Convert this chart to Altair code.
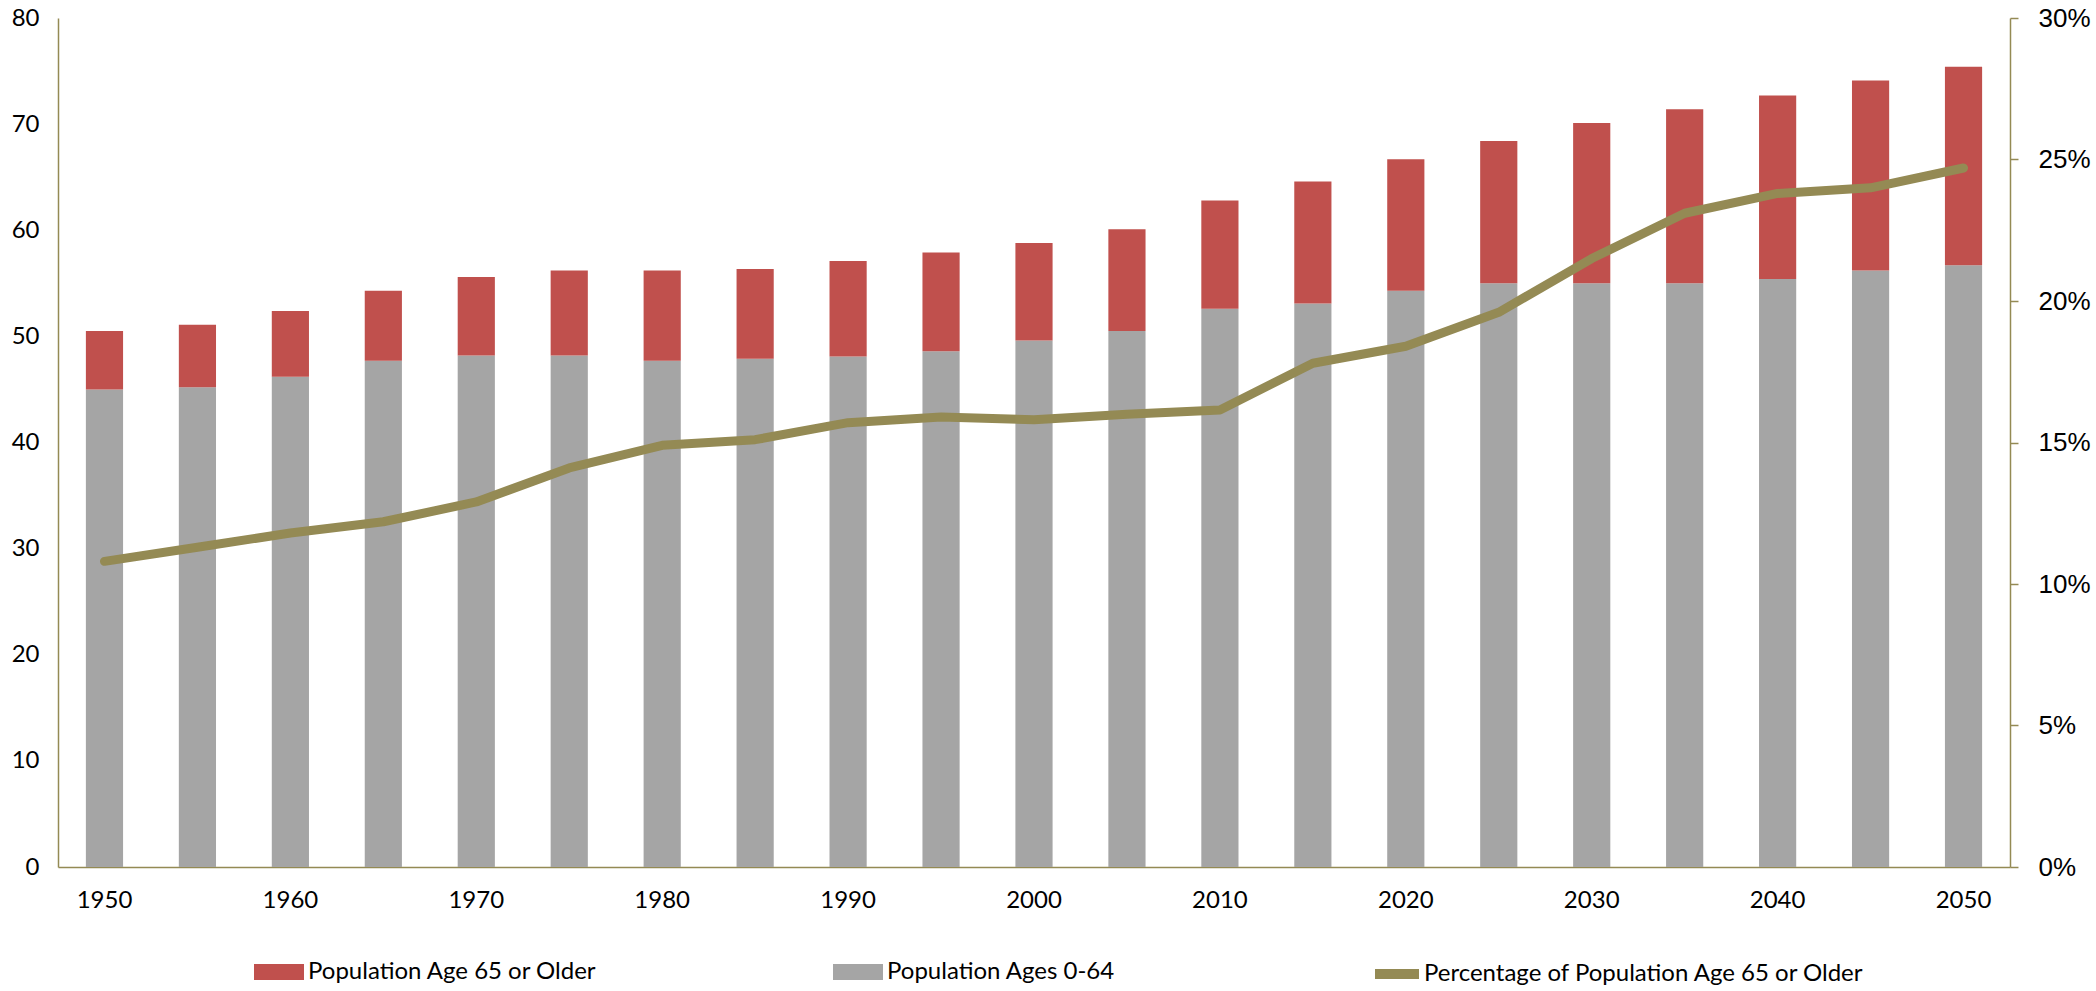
import altair as alt
import pandas as pd

years = list(range(1950, 2051, 5))
pop_0_64 = [45.0, 45.2, 46.2, 47.7, 48.2, 48.2, 47.7, 47.9, 48.1, 48.6, 49.6,
            50.5, 52.6, 53.1, 54.3, 55.0, 55.0, 55.0, 55.4, 56.2, 56.7]
pop_65_plus = [5.5, 5.9, 6.2, 6.6, 7.4, 8.0, 8.5, 8.45, 9.0, 9.3, 9.2,
               9.6, 10.2, 11.5, 12.4, 13.4, 15.1, 16.4, 17.3, 17.9, 18.7]
pct_65_plus = [0.108, 0.113, 0.118, 0.122, 0.129, 0.141, 0.149, 0.151, 0.157, 0.159, 0.158,
               0.160, 0.1615, 0.178, 0.184, 0.196, 0.215, 0.231, 0.238, 0.240, 0.247]

S_OLD = "Population Age 65 or Older"
S_YOUNG = "Population Ages 0-64"
S_PCT = "Percentage of Population Age 65 or Older"

bars_df = pd.DataFrame(
    [{"year": y, "series": S_YOUNG, "value": v, "ord": 0} for y, v in zip(years, pop_0_64)]
    + [{"year": y, "series": S_OLD, "value": v, "ord": 1} for y, v in zip(years, pop_65_plus)]
)
line_df = pd.DataFrame({"year": years, "pct": pct_65_plus, "series": S_PCT})

OLIVE = "#948A54"
RED = "#C0504D"
GRAY = "#A5A5A5"
FONT_A = "Lato"
FONT_B = "Liberation Sans"

x_enc = alt.X(
    "year:O",
    scale=alt.Scale(paddingInner=0.6, paddingOuter=0.3),
    axis=alt.Axis(
        title=None, labelAngle=0, values=list(range(1950, 2051, 10)),
        ticks=False, tickSize=0, labelPadding=21, labelFont=FONT_A, labelFontSize=24,
        labelColor="black", domainColor=OLIVE, domainWidth=1.5,
    ),
)

bars = alt.Chart(bars_df).mark_bar().encode(
    x=x_enc,
    y=alt.Y(
        "value:Q", stack="zero",
        scale=alt.Scale(domain=[0, 80], nice=False),
        axis=alt.Axis(
            title=None, values=list(range(0, 81, 10)), ticks=False, tickSize=0,
            labelPadding=19, labelFont=FONT_A, labelFontSize=24, labelColor="black",
            domainColor=OLIVE, domainWidth=1.5, grid=False,
        ),
    ),
    fill=alt.Fill(
        "series:N",
        scale=alt.Scale(domain=[S_OLD, S_YOUNG], range=[RED, GRAY]),
        legend=alt.Legend(
            title=None, orient="none", direction="horizontal", legendX=196, legendY=929,
            symbolType="M-1,-0.32H1V0.32H-1Z", symbolSize=2500, symbolStrokeWidth=0,
            labelFont=FONT_A, labelFontSize=24, labelColor="black", labelOffset=4,
            labelLimit=1000, columnPadding=236, padding=0,
        ),
    ),
    order=alt.Order("ord:Q"),
)

line = alt.Chart(line_df).mark_line(strokeWidth=9, strokeCap="round", strokeJoin="round").encode(
    x=x_enc,
    y=alt.Y(
        "pct:Q",
        scale=alt.Scale(domain=[0, 0.30], nice=False),
        axis=alt.Axis(
            title=None, orient="right", values=[0, 0.05, 0.10, 0.15, 0.20, 0.25, 0.30],
            format=".0%", tickSize=8, tickColor=OLIVE, tickWidth=1.5, labelPadding=20,
            labelFont=FONT_B, labelFontSize=26, labelColor="black",
            domainColor=OLIVE, domainWidth=1.5, grid=False,
        ),
    ),
    stroke=alt.Stroke(
        "series:N",
        scale=alt.Scale(domain=[S_PCT], range=[OLIVE]),
        legend=alt.Legend(
            title=None, orient="none", direction="horizontal", legendX=1312, legendY=929,
            symbolType="stroke", symbolSize=1936, symbolStrokeWidth=10,
            labelFont=FONT_A, labelFontSize=24, labelColor="black", labelOffset=0,
            labelLimit=1000, padding=0,
        ),
    ),
)

chart = alt.layer(bars, line).resolve_scale(
    y="independent", fill="independent", stroke="independent"
).properties(
    width=1952, height=849,
    padding={"left": 58, "top": 18, "right": 86, "bottom": 124},
    autosize=alt.AutoSizeParams(type="none"),
    background="white",
).configure_view(stroke=None)

chart.save("out.html", embed_options={"renderer": "svg", "actions": False})
